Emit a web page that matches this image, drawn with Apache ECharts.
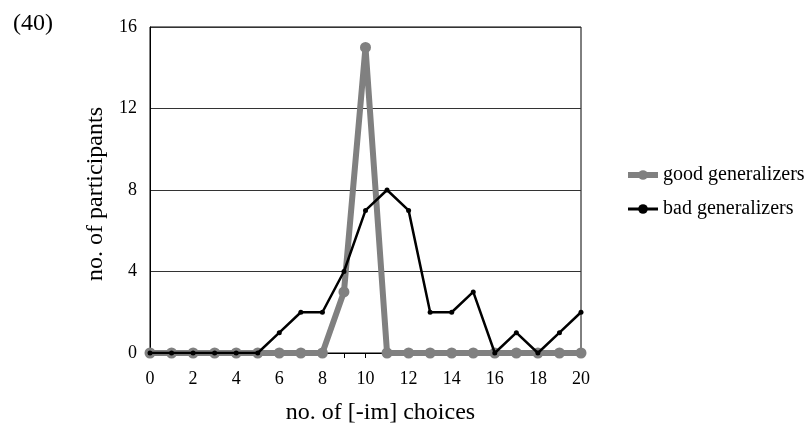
<!DOCTYPE html>
<html>
<head>
<meta charset="utf-8">
<script src="https://cdn.jsdelivr.net/npm/echarts@6/dist/echarts.min.js"></script>
<style>
  html, body { margin: 0; padding: 0; background: #fff; }
  #chart { width: 809px; height: 427px; }
</style>
</head>
<body>
<div id="chart"></div>
<script>
const choices = [0, 1, 2, 3, 4, 5, 6, 7, 8, 9, 10, 11, 12, 13, 14, 15, 16, 17, 18, 19, 20];
const goodGeneralizers = [0, 0, 0, 0, 0, 0, 0, 0, 0, 3, 15, 0, 0, 0, 0, 0, 0, 0, 0, 0, 0];
const badGeneralizers = [0, 0, 0, 0, 0, 0, 1, 2, 2, 4, 7, 8, 7, 2, 2, 3, 0, 1, 0, 1, 2];

const font = 'Liberation Serif, Times New Roman, serif';
const chart = echarts.init(document.getElementById('chart'));

chart.setOption({
  animation: false,
  textStyle: { fontFamily: font, color: '#000' },
  graphic: [{
    type: 'text', left: 13, top: 12,
    style: { text: '(40)', font: '24px ' + font, fill: '#000' }
  }],
  grid: {
    left: 150, right: 228, top: 27, bottom: 74,
    outerBoundsMode: 'none',
    show: true, borderColor: '#000', borderWidth: 1
  },
  legend: {
    orient: 'vertical',
    left: 625, top: 165, padding: 0,
    itemWidth: 30, itemHeight: 12, itemGap: 14,
    textStyle: { fontFamily: font, fontSize: 20, color: '#000' },
    data: [
      { name: 'good generalizers', lineStyle: { width: 6 }, itemStyle: { color: '#808080' } },
      { name: 'bad generalizers', lineStyle: { width: 3 } }
    ]
  },
  xAxis: {
    type: 'value', min: 0, max: 20, interval: 1,
    name: 'no. of [-im] choices', nameLocation: 'middle', nameGap: 48,
    nameTextStyle: { fontFamily: font, fontSize: 24, color: '#000', padding: [0, 0, 0, 30] },
    axisLine: { onZero: false, lineStyle: { color: '#000', width: 1 } },
    axisTick: { show: true, length: 5, lineStyle: { color: '#000' } },
    axisLabel: {
      fontFamily: font, fontSize: 18, color: '#000', margin: 17,
      formatter: v => (v % 2 === 0 ? String(v) : '')
    },
    splitLine: { show: false }
  },
  yAxis: {
    type: 'value', min: 0, max: 16, interval: 4,
    name: 'no. of participants', nameLocation: 'middle', nameGap: 41,
    nameTextStyle: { fontFamily: font, fontSize: 24, color: '#000', padding: [0, 8, 0, 0] },
    axisLine: { show: true, lineStyle: { color: '#000', width: 1 } },
    axisTick: { show: false },
    axisLabel: { fontFamily: font, fontSize: 18, color: '#000', margin: 13 },
    splitLine: { show: true, lineStyle: { color: '#333', width: 1 } }
  },
  series: [
    {
      name: 'good generalizers',
      type: 'line',
      data: choices.map((c, i) => [c, goodGeneralizers[i]]),
      symbol: 'circle', symbolSize: 11,
      lineStyle: { color: '#808080', width: 6 },
      itemStyle: { color: '#808080' },
      z: 2
    },
    {
      name: 'bad generalizers',
      type: 'line',
      data: choices.map((c, i) => [c, badGeneralizers[i]]),
      symbol: 'circle', symbolSize: 5,
      lineStyle: { color: '#000', width: 2.5 },
      itemStyle: { color: '#000' },
      z: 3
    }
  ]
});
</script>
</body>
</html>
